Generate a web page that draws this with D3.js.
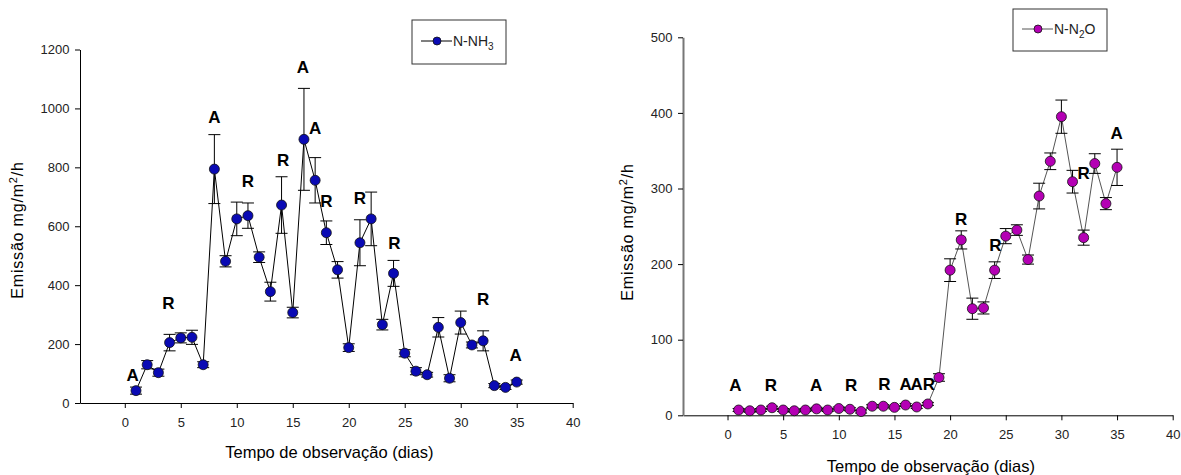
<!DOCTYPE html>
<html>
<head>
<meta charset="utf-8">
<script src="https://cdn.jsdelivr.net/npm/d3@7"></script>
<style>
  body { margin: 0; background: #fff; }
  svg { display: block; font-family: Arial, "Liberation Sans", sans-serif; }
</style>
</head>
<body>
<svg id="chart" width="1181" height="475"></svg>
<script>
// days of observation
const days = d3.range(1, 36)

// N-NH3 emission and error
const nh3Values = [42, 130, 103, 205, 221, 223, 130, 794, 481, 625, 636, 495, 378, 672, 307,
  895, 756, 578, 452, 188, 544, 625, 266, 440, 169, 108, 96, 257, 84, 273, 197, 211, 59, 53, 71]
const nh3Errors = [12, 14, 12, 28, 17, 24, 10, 117, 19, 57, 43, 18, 32, 96, 18,
  173, 77, 40, 28, 13, 78, 91, 18, 44, 12, 12, 8, 33, 12, 39, 10, 34, 7, 7, 7]

// N-N2O emission and error
const n2oValues = [7, 6, 7, 10, 7, 6, 7, 8.5, 7, 9, 8, 5, 12, 12, 10.5,
  13.6, 11, 15, 50, 192, 232, 141, 142, 192, 237, 245, 206, 290, 336, 395, 309, 235, 333, 280, 328]
const n2oErrors = [2, 2, 2, 2, 2, 2, 2, 2, 2, 2, 2, 2, 2, 2, 2,
  2, 2, 2, 5, 15, 12, 14, 8, 11, 10, 7, 6, 17, 11, 22, 15, 10, 13, 8, 24]

// letter marks: [day, value, letter]
const nh3Marks = [[0.7, 95, 'A'], [3.9, 339, 'R'], [8, 971, 'A'], [11, 755, 'R'], [14.15, 825, 'R'],
  [15.9, 1140, 'A'], [17, 935, 'A'], [18, 686, 'R'], [21, 697, 'R'], [24.07, 542, 'R'],
  [32, 354, 'R'], [34.9, 163, 'A']]
const n2oMarks = [[0.7, 40, 'A'], [3.9, 40, 'R'], [7.96, 40, 'A'], [11.1, 40, 'R'], [14.1, 42, 'R'],
  [16, 42, 'A'], [17, 42, 'A'], [18.1, 42, 'R'], [21, 260, 'R'], [24.07, 225, 'R'],
  [32, 321, 'R'], [34.96, 374, 'A']]

const xTicks = d3.range(0, 41, 5)
const yTicksNh3 = d3.range(0, 1201, 200)
const yTicksN2o = d3.range(0, 501, 100)

const svg = d3.select('#chart')

function drawPanel(opt)
{
  const
    g      = svg.append('g'),
    xScale = d3.scaleLinear().domain([-4, 40]).range([opt.left, opt.right]),
    yScale = d3.scaleLinear().domain([0, opt.yMax]).range([opt.bottom, opt.top])

  // axes
  const xAxis = g.append('g')
    .attr('transform', `translate(0,${opt.bottom})`)
    .call(d3.axisBottom(xScale).tickValues(xTicks).tickFormat(d3.format('d')).tickSize(5).tickSizeOuter(0))
  const yAxis = g.append('g')
    .attr('transform', `translate(${opt.left},0)`)
    .call(d3.axisLeft(yScale).tickValues(opt.yTicks).tickFormat(d3.format('d')).tickSize(5).tickSizeOuter(0))

  for(const ax of [xAxis, yAxis])
  {
    ax.selectAll('text').attr('font-size', 13).attr('fill', '#222').style('font-family', 'Arial, "Liberation Sans", sans-serif')
    ax.select('.domain').attr('stroke', '#000')
    ax.selectAll('.tick line').attr('stroke', '#000')
  }
  xAxis.selectAll('text').attr('dy', '1.2em')
  yAxis.selectAll('text').attr('dx', '-0.2em')
  yAxis.select('.domain').attr('stroke', opt.yAxisColor).attr('stroke-width', opt.yAxisWidth)

  // axis titles
  g.append('text')
    .attr('x', (opt.left + opt.right) / 2 + 3)
    .attr('y', opt.xLabelY)
    .attr('text-anchor', 'middle')
    .attr('font-size', 16.5)
    .text('Tempo de observação (dias)')

  const yl = g.append('text')
    .attr('transform', `translate(${opt.yLabelX},${opt.yLabelY}) rotate(-90)`)
    .attr('text-anchor', 'middle')
    .attr('font-size', 16)
    .attr('letter-spacing', 0.8)
  yl.append('tspan').text('Emissão mg/m')
  yl.append('tspan').attr('font-size', 11).attr('dy', -6).text('2')
  yl.append('tspan').attr('dy', 6).text('/h')

  const data = days.map((d, i) => [d, opt.values[i], opt.errors[i]])

  // connecting line
  g.append('path')
    .datum(data)
    .attr('fill', 'none')
    .attr('stroke', opt.lineColor)
    .attr('stroke-width', 1)
    .attr('d', d3.line().x(d => xScale(d[0])).y(d => yScale(d[1])))

  // error bars
  const eb = g.append('g').attr('stroke', '#000').attr('stroke-width', 1)
  data.forEach(d =>
  {
    const
      x  = xScale(d[0]),
      y0 = yScale(d[1] - d[2]),
      y1 = yScale(d[1] + d[2])
    eb.append('line').attr('x1', x).attr('x2', x).attr('y1', y0).attr('y2', y1)
    eb.append('line').attr('x1', x - 6).attr('x2', x + 6).attr('y1', y0).attr('y2', y0)
    eb.append('line').attr('x1', x - 6).attr('x2', x + 6).attr('y1', y1).attr('y2', y1)
  })

  // markers
  g.append('g').selectAll('circle')
    .data(data)
    .join('circle')
    .attr('cx', d => xScale(d[0]))
    .attr('cy', d => yScale(d[1]))
    .attr('r', 5)
    .attr('fill', opt.markColor)
    .attr('stroke', '#111')
    .attr('stroke-width', 0.8)

  // letters
  g.append('g').selectAll('text')
    .data(opt.marks)
    .join('text')
    .attr('x', d => xScale(d[0]))
    .attr('y', d => yScale(d[1]))
    .attr('dy', '0.36em')
    .attr('text-anchor', 'middle')
    .attr('font-size', 17)
    .attr('font-weight', 'bold')
    .text(d => d[2])

  // legend
  const lg = g.append('g')
  lg.append('rect')
    .attr('x', opt.legend[0]).attr('y', opt.legend[1])
    .attr('width', opt.legend[2]).attr('height', opt.legend[3])
    .attr('fill', '#fff').attr('stroke', '#333').attr('stroke-width', 1)
  const ly = opt.legend[1] + opt.legend[3] / 2 - 1
  lg.append('line')
    .attr('x1', opt.legend[0] + 9).attr('x2', opt.legend[0] + 40)
    .attr('y1', ly).attr('y2', ly)
    .attr('stroke', opt.lineColor)
  lg.append('circle')
    .attr('cx', opt.legend[0] + 25).attr('cy', ly).attr('r', 4)
    .attr('fill', opt.markColor).attr('stroke', '#111').attr('stroke-width', 0.8)
  const lt = lg.append('text')
    .attr('x', opt.legend[0] + 41).attr('y', ly + 5)
    .attr('font-size', 14)
    .attr('fill', '#222')
  opt.legendText.forEach(([s, sub], i) =>
  {
    const ts = lt.append('tspan').text(s)
    if(sub) ts.attr('font-size', 10).attr('dy', 4)
    else if(i > 0) ts.attr('dy', -4)
  })
}

drawPanel({
  left: 80, right: 572.7, top: 49.5, bottom: 403, yMax: 1200, yTicks: yTicksNh3,
  values: nh3Values, errors: nh3Errors, marks: nh3Marks,
  lineColor: '#000', markColor: '#0a0ab4', yAxisColor: '#000', yAxisWidth: 1,
  xLabelY: 458, yLabelX: 23, yLabelY: 230,
  legend: [412, 20, 94, 44], legendText: [['N-NH', false], ['3', true]]
})

drawPanel({
  left: 683, right: 1172.7, top: 37.3, bottom: 415.3, yMax: 500, yTicks: yTicksN2o,
  values: n2oValues, errors: n2oErrors, marks: n2oMarks,
  lineColor: '#555', markColor: '#b400b4', yAxisColor: '#777', yAxisWidth: 2,
  xLabelY: 472, yLabelX: 633, yLabelY: 232,
  legend: [1013, 9, 94, 42], legendText: [['N-N', false], ['2', true], ['O', false]]
})
</script>
</body>
</html>
